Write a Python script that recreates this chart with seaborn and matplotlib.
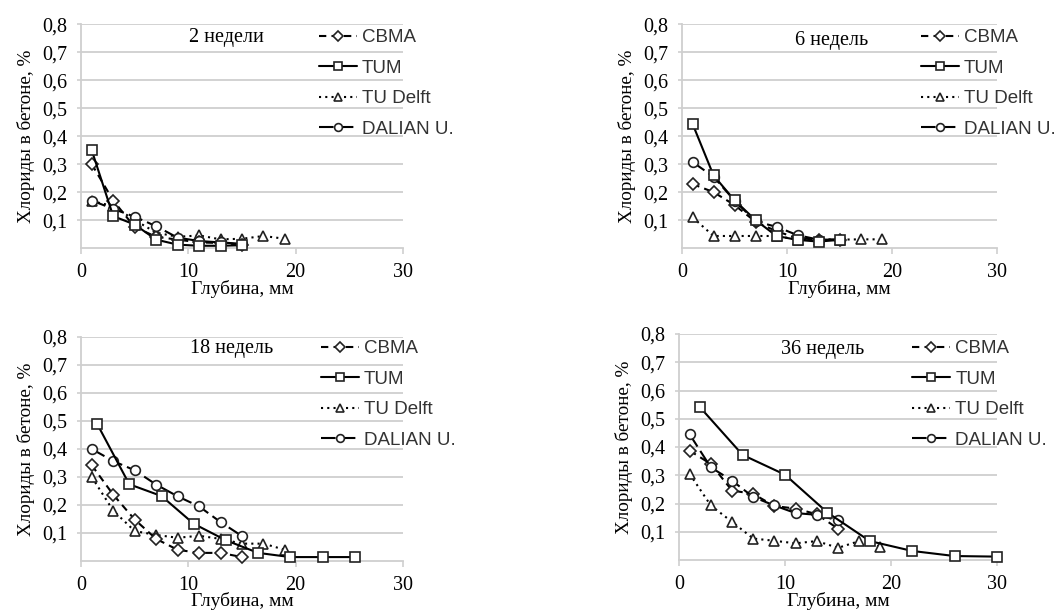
import numpy as np
import pandas as pd
import matplotlib
matplotlib.use("Agg")
import matplotlib.pyplot as plt
from matplotlib.ticker import FixedLocator, FuncFormatter
import seaborn as sns

sns.set_theme(style="white")
plt.rcParams['font.family'] = ['Liberation Serif', 'DejaVu Serif']

# ---------------- data ----------------
series_names = ["CBMA", "TUM", "TU Delft", "DALIAN U."]
panel_titles = ["2 недели", "6 недель", "18 недель", "36 недель"]

depth_std = [1, 3, 5, 7, 9, 11, 13, 15]
depth_delft = [1, 3, 5, 7, 9, 11, 13, 15, 17, 19]

# 2 weeks
w2_cbma = [0.30, 0.17, 0.075, 0.04, 0.03, 0.02, 0.018, 0.012]
w2_tum = [0.35, 0.114, 0.084, 0.03, 0.012, 0.008, 0.008, 0.01]
w2_delft = [0.168, 0.15, 0.10, 0.055, 0.04, 0.045, 0.031, 0.033, 0.043, 0.033]
w2_dalian = [0.17, 0.14, 0.112, 0.078, 0.037, 0.025, 0.02, 0.015]

# 6 weeks
w6_cbma = [0.229, 0.20, 0.154, 0.094, 0.06, 0.035, 0.03, 0.03]
w6_tum = [0.445, 0.26, 0.171, 0.10, 0.043, 0.029, 0.023, 0.029]
w6_delft = [0.11, 0.043, 0.043, 0.043, 0.043, 0.03, 0.03, 0.03, 0.031, 0.031]
w6_dalian = [0.308, 0.255, 0.17, 0.095, 0.076, 0.046, 0.03, 0.03]

# 18 weeks
w18_tum_depth = [1.5, 4.5, 7.5, 10.5, 13.5, 16.5, 19.5, 22.5, 25.5]
w18_cbma = [0.342, 0.237, 0.148, 0.079, 0.040, 0.029, 0.029, 0.014]
w18_tum = [0.49, 0.274, 0.232, 0.133, 0.074, 0.029, 0.014, 0.014, 0.014]
w18_delft = [0.30, 0.18, 0.107, 0.093, 0.083, 0.09, 0.079, 0.062, 0.062, 0.04]
w18_dalian = [0.40, 0.357, 0.324, 0.273, 0.231, 0.195, 0.139, 0.089]

# 36 weeks
w36_tum_depth = [2, 6, 10, 14, 18, 22, 26, 30]
w36_cbma = [0.387, 0.34, 0.246, 0.234, 0.191, 0.182, 0.162, 0.111]
w36_tum = [0.54, 0.372, 0.302, 0.168, 0.067, 0.032, 0.014, 0.012]
w36_delft = [0.305, 0.193, 0.135, 0.076, 0.068, 0.059, 0.067, 0.043, 0.067, 0.047]
w36_dalian = [0.445, 0.328, 0.281, 0.223, 0.193, 0.166, 0.16, 0.14]

panels = [
    {"CBMA": (depth_std, w2_cbma), "TUM": (depth_std, w2_tum),
     "TU Delft": (depth_delft, w2_delft), "DALIAN U.": (depth_std, w2_dalian)},
    {"CBMA": (depth_std, w6_cbma), "TUM": (depth_std, w6_tum),
     "TU Delft": (depth_delft, w6_delft), "DALIAN U.": (depth_std, w6_dalian)},
    {"CBMA": (depth_std, w18_cbma), "TUM": (w18_tum_depth, w18_tum),
     "TU Delft": (depth_delft, w18_delft), "DALIAN U.": (depth_std, w18_dalian)},
    {"CBMA": (depth_std, w36_cbma), "TUM": (w36_tum_depth, w36_tum),
     "TU Delft": (depth_delft, w36_delft), "DALIAN U.": (depth_std, w36_dalian)},
]

y_ticks = [0.1, 0.2, 0.3, 0.4, 0.5, 0.6, 0.7, 0.8]
x_ticks = [0, 10, 20, 30]

# ---------------- styles ----------------
styles = {
    "CBMA": dict(marker="D", markersize=6, linestyle=(0, (3.5, 2.5)), zorder=3),
    "TUM": dict(marker="s", markersize=7.5, linestyle="-", zorder=5),
    "TU Delft": dict(marker="^", markersize=7, linestyle=(0, (1, 2)), zorder=2),
    "DALIAN U.": dict(marker="o", markersize=7, linestyle=(0, (7, 2.5)), zorder=4),
}

W, H = 1063, 614
fig = plt.figure(figsize=(W / 100, H / 100), dpi=100)

# axes rectangles in pixels: (left, top, right, bottom)
rects = [(81, 24.5, 403, 248), (682, 24.5, 997, 248),
         (81, 337, 403, 561), (679, 334, 997, 560)]
title_pos = [(0.453, 0.944), (0.476, 0.93), (0.469, 0.95), (0.453, 0.93)]
legend_pos = [(319, 29), (921, 29), (321, 340), (912, 340)]

grid_c = "#cfcfcf"
tick_fs = 14.5

for i, (l, t, r, b) in enumerate(rects):
    ax = fig.add_axes([l / W, 1 - b / H, (r - l) / W, (b - t) / H])
    for name in series_names:
        xs, ys = panels[i][name]
        df = pd.DataFrame({"x": xs, "y": ys})
        st = styles[name]
        sns.lineplot(data=df, x="x", y="y", ax=ax, estimator=None, sort=False,
                     color="black", linewidth=1.5, label=name,
                     marker=st["marker"], markersize=st["markersize"],
                     linestyle=st["linestyle"], markerfacecolor="white",
                     markeredgecolor="#222222", markeredgewidth=1.2,
                     zorder=st["zorder"], clip_on=False, legend=False)
    ax.set_xlim(0, 30)
    ax.set_ylim(0, 0.8)
    ax.xaxis.set_major_locator(FixedLocator(x_ticks))
    ax.yaxis.set_major_locator(FixedLocator(y_ticks))
    ax.yaxis.set_major_formatter(FuncFormatter(lambda v, p: f"{v:.1f}".replace(".", ",")))
    ax.grid(axis="y", color=grid_c, linewidth=1.3)
    ax.set_axisbelow(True)
    for s in ["top", "right"]:
        ax.spines[s].set_visible(False)
    for s in ["left", "bottom"]:
        ax.spines[s].set_color(grid_c)
        ax.spines[s].set_linewidth(1.3)
    ax.tick_params(axis="x", bottom=True, length=4, width=1.2, color=grid_c,
                   labelsize=tick_fs, pad=6.5, labelcolor="black")
    ax.tick_params(axis="y", left=True, length=3, width=1.2, color=grid_c,
                   labelsize=tick_fs, pad=7, labelcolor="black")
    ax.set_xlabel("Глубина, мм", fontsize=14, labelpad=-1.5, color="black")
    ax.set_ylabel("Хлориды в бетоне, %", fontsize=13.8, labelpad=5, color="black")
    ax.text(title_pos[i][0], title_pos[i][1], panel_titles[i], transform=ax.transAxes,
            ha="center", va="center", fontsize=14.5, color="black")
    handles, labels = ax.get_legend_handles_labels()
    lx, ly = legend_pos[i]
    leg = ax.legend(handles, labels, loc="upper left",
                    bbox_to_anchor=(lx / W, 1 - ly / H), bbox_transform=fig.transFigure,
                    frameon=False, borderpad=0, borderaxespad=0, handlelength=2.0,
                    handletextpad=0.3, labelspacing=0.72, markerscale=0.8,
                    prop={"family": "Liberation Sans", "size": 13.5})
    for txt in leg.get_texts():
        txt.set_color("#333333")

fig.savefig("out.png", dpi=100, facecolor="white")
